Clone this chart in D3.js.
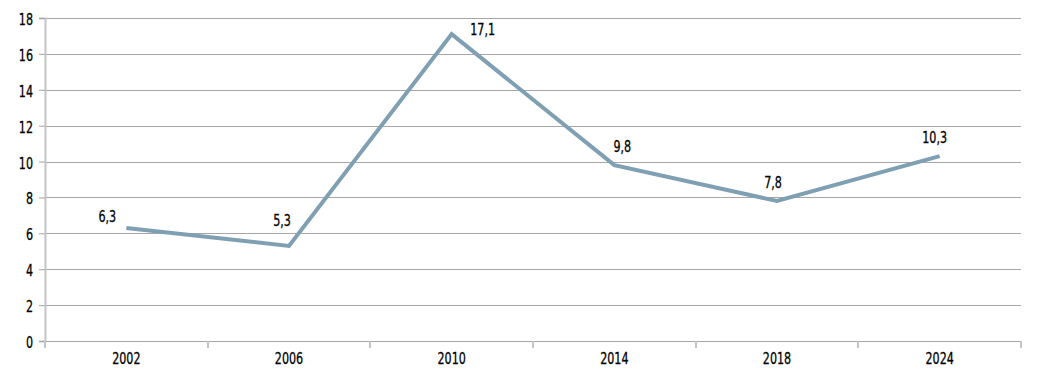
<!DOCTYPE html>
<html>
<head>
<meta charset="utf-8">
<script src="https://cdn.jsdelivr.net/npm/d3@7"></script>
<style>
  body { margin: 0; background: #fff; }
  text { font-family: "DejaVu Sans Condensed", "Liberation Sans Narrow", sans-serif; fill: #000; stroke: #000; stroke-width: 0.3px; }
</style>
</head>
<body>
<script>
var years = ["2002", "2006", "2010", "2014", "2018", "2024"];
var values = [6.3, 5.3, 17.1, 9.8, 7.8, 10.3];
var yTicks = [0, 2, 4, 6, 8, 10, 12, 14, 16, 18];
// label nudges relative to each point
var labelDx = [-19, -7, 31, 8, -4, -5];
var labelDy = [-6, -20, 1, -13, -13, -13];

var width = 1043, height = 377;
var margin = {top: 18, right: 22, bottom: 36, left: 45};
var w = width - margin.left - margin.right;
var h = height - margin.top - margin.bottom;
var squeeze = 0.75; // narrow the text to look like a condensed face

var svg = d3.select("body").append("svg")
	.attr("width", width)
	.attr("height", height);

var g = svg.append("g")
	.attr("transform", "translate(" + margin.left + "," + margin.top + ")");

var x = d3.scaleBand().domain(years).range([0, w]);
var y = d3.scaleLinear().domain([0, 18]).range([h, 0]);

function label(sel, px, py, anchor, txt) {
	sel.append("text")
		.attr("transform", "translate(" + px + "," + py + ") scale(" + squeeze + ",1)")
		.attr("text-anchor", anchor)
		.attr("font-size", "16.5px")
		.text(txt);
}

// gridlines
g.selectAll(".grid")
	.data(yTicks.filter(function(d) { return d > 0; }))
	.enter().append("line")
	.attr("x1", 0).attr("x2", w)
	.attr("y1", function(d) { return Math.round(y(d)) + 0.5; })
	.attr("y2", function(d) { return Math.round(y(d)) + 0.5; })
	.attr("stroke", "#a6a6a6")
	.attr("stroke-width", 1);

// y axis
var leftAxis = d3.axisLeft(y).tickValues(yTicks).tickSize(6).tickFormat("");
var ya = g.append("g").call(leftAxis);
ya.select(".domain").attr("stroke", "#c4c4c4").attr("stroke-width", 2);
ya.selectAll(".tick line").attr("stroke", "#a6a6a6");
yTicks.forEach(function(d) {
	label(g, -12, y(d) + 7, "end", d);
});

// x axis: baseline and boundary ticks
g.append("line")
	.attr("x1", 0).attr("x2", w)
	.attr("y1", h + 0.5).attr("y2", h + 0.5)
	.attr("stroke", "#a6a6a6");

var bounds = years.map(function(d) { return x(d); }).concat([w]);
g.selectAll(".xtick")
	.data(bounds)
	.enter().append("line")
	.attr("x1", function(d) { return Math.round(d); })
	.attr("x2", function(d) { return Math.round(d); })
	.attr("y1", h).attr("y2", h + 7)
	.attr("stroke", "#c4c4c4")
	.attr("stroke-width", 2);

years.forEach(function(d) {
	label(g, x(d) + x.bandwidth() / 2, h + 23, "middle", d);
});

// line
var line = d3.line()
	.x(function(d, i) { return x(years[i]) + x.bandwidth() / 2; })
	.y(function(d) { return y(d); });

g.append("path")
	.datum(values)
	.attr("d", line)
	.attr("fill", "none")
	.attr("stroke", "#7f9fb2")
	.attr("stroke-width", 4)
	.attr("stroke-linejoin", "miter");

// value labels
values.forEach(function(d, i) {
	label(g, x(years[i]) + x.bandwidth() / 2 + labelDx[i], y(d) + labelDy[i], "middle",
		String(d).replace(".", ","));
});
</script>
</body>
</html>
